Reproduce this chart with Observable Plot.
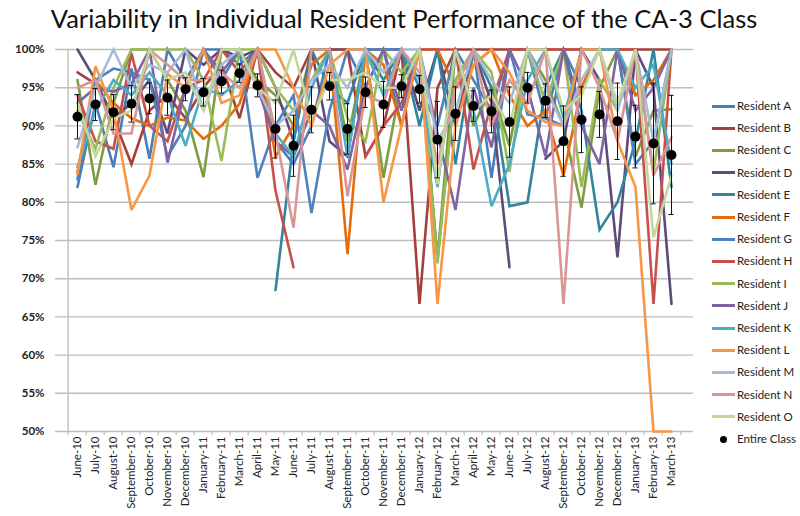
<!DOCTYPE html>
<html>
<head>
<meta charset="utf-8">
<script src="https://cdn.jsdelivr.net/npm/d3@7"></script>
<script src="https://cdn.jsdelivr.net/npm/@observablehq/plot@0.6"></script>
<style>
  html, body { margin: 0; padding: 0; background: #fff; }
  body { width: 800px; height: 516px; position: relative; overflow: hidden; font-family: Lato, "Open Sans", sans-serif; }
  #title { position: absolute; left: 4px; top: 3px; width: 800px; text-align: center; font-size: 25.5px; color: #111; white-space: nowrap; }
  #chart { position: absolute; left: 0; top: 40px; }
  #legend { position: absolute; left: 0; top: 0; }
  .li { position: absolute; left: 712px; font-size: 11.5px; color: #222; white-space: nowrap; height: 14px; line-height: 14px; }
  .sw { display: inline-block; width: 23px; height: 3px; vertical-align: middle; margin-right: 2px; position: relative; top: -1px; }
  .dotsw { display: inline-block; width: 7px; height: 7px; border-radius: 50%; background: #000; margin-left: 8px; margin-right: 10px; vertical-align: middle; position: relative; top: -1px; }
  #chart svg [aria-label^="y-axis"] text { font-weight: bold; font-size: 11.5px; }
  #chart svg [aria-label^="x-axis"] text { font-size: 11.5px; }
</style>
</head>
<body>
<div id="title">Variability in Individual Resident Performance of the CA-3 Class</div>
<div id="chart"></div>
<div id="legend"></div>
<script>
const months = ["June-10","July-10","August-10","September-10","October-10","November-10","December-10","January-11","February-11","March-11","April-11","May-11","June-11","July-11","August-11","September-11","October-11","November-11","December-11","January-12","February-12","March-12","April-12","May-12","June-12","July-12","August-12","September-12","October-12","November-12","December-12","January-13","February-13","March-13"];

const residents = ["Resident A","Resident B","Resident C","Resident D","Resident E","Resident F","Resident G","Resident H","Resident I","Resident J","Resident K","Resident L","Resident M","Resident N","Resident O"];
const residentColors = ["#4A7EBB","#A5403D","#7E9C41","#5F4A7C","#31859C","#E46C0A","#4F81BD","#C8504C","#9BBB59","#8064A2","#4BACC6","#F79646","#A6BBD9","#DA9694","#C3D69B"];

const residentA = [82,93,84.6,97.5,85.7,100,96,100,100,98,100,88,85,90,100,100,95,100,90,100,72.5,96,100,83.2,100,100,91,100,95,100,100,94,null,null];
const residentB = [97,95.5,91,85,92,94,91,95,98,91,100,97,95,100,100,100,86,90,100,66.7,95,100,100,100,100,100,100,100,100,100,100,100,100,100];
const residentC = [96,82.3,93,100,100,96,92,83.3,100,100,96,94,90,100,100,88,100,83.2,96,100,72.5,100,90,95,87.4,100,96,90,79.3,95,100,86,92,92.2];
const residentD = [100,96,91,93,96,89,100,98,100,99,100,95,88,100,88,86,100,100,100,92,100,90,100,93,71.5,null,85.7,88,100,96,72.8,100,95,66.7];
const residentE = [null,null,null,null,null,null,null,null,null,null,null,68.5,88,100,95,93,100,96,100,90,100,85,100,95,79.5,80,95,100,92,76.4,80,88,100,82];
const residentF = [84,96,93,91,90,91.1,90.7,88.3,90,92.9,100,86,90,98,100,73.2,100,98,90,100,100,95,98,100,94,90,92,83.5,95,100,100,94,96,100];
const residentG = [83,96,97.5,97,96,86,90,100,96,100,83.2,90,94,78.6,92,100,100,100,100,95,90,100,96,92,100,91.5,91,90,100,100,100,85,88,100];
const residentH = [94,88,87,99.5,90,88,95,96,100,97,100,81.5,71.5,null,null,null,86,90,93,100,100,100,84.3,93,100,100,100,100,100,100,100,100,66.7,100];
const residentI = [92,87,95,100,100,100,100,96,85.4,100,100,95,92,96,100,91,88,100,97,100,72,96,100,97,84,100,93,100,82,96,92,100,84,100];
const residentJ = [93,95,94.5,95.5,100,85.2,95,100,97,100,95,88,86,92,90,84.3,95,100,92,100,89,79,95,87.2,100,95,86,100,90,85,100,92,95,100];
const residentK = [84.6,92,96,94,97,94,87.4,95,94,96,100,89,86,95,100,86,100,94,100,96,82,100,92,79.5,85,96,100,91,100,100,100,95,98,85];
const residentL = [83.7,97.8,92,79,83.5,96.8,95,100,93,94,100,100,95,90,98,100,100,80,90,100,66.7,90,98,100,97,92,90.5,90,100,100,88,82,50,50];
const residentM = [87.2,95,100,95,98,97,100,92,98,100,95,90,92,96,98,95,100,97,100,100,88,92,100,96,93,100,95,90,96,100,92,100,88,100];
const residentN = [95,96,89,89,100,98,96,96,97,95,100,89,76.7,100,100,80.8,94,93,100,97,85,95,100,90,96,93,100,66.7,100,95,88,100,83.5,88.5];
const residentO = [93,86,91,92,100,96,97,92,100,100,95,93,100,91,96,96,97,95,95,100,82.4,100,92,94,90,100,100,92,94,100,93,100,75.4,83.5];

const classMean = [91.2,92.8,91.8,92.9,93.6,93.7,94.8,94.4,95.8,96.9,95.3,89.6,87.4,92.1,95.2,89.6,94.4,92.8,95.2,94.8,88.2,91.6,92.6,91.9,90.5,95.0,93.3,88.0,90.8,91.5,90.6,88.6,87.7,86.2];
const classErr = [2.9,2.1,2.3,2.4,2.0,2.3,1.5,1.8,1.5,1.2,1.5,3.8,4.0,3.0,1.8,3.3,2.0,3.0,1.5,1.8,5.0,3.5,2.0,2.8,4.6,2.0,2.2,4.6,4.3,3.0,5.0,4.1,7.9,7.8];

const yTicks = [50,55,60,65,70,75,80,85,90,95,100];

const seriesValues = [residentA,residentB,residentC,residentD,residentE,residentF,residentG,residentH,residentI,residentJ,residentK,residentL,residentM,residentN,residentO];
const lineData = [];
residents.forEach((r, i) => {
  months.forEach((m, j) => {
    const v = seriesValues[i][j];
    lineData.push({resident: r, month: m, value: v == null ? NaN : v});
  });
});
const classData = months.map((m, j) => ({month: m, mean: classMean[j], lo: classMean[j] - classErr[j], hi: classMean[j] + classErr[j]}));

const W = 800, H = 476, mL = 55, mR = 107, mT = 9, mB = 85;
const bw = (W - mL - mR) / months.length;
const grid = "#BEBEBE";

const chart = Plot.plot({
  width: W, height: H,
  marginTop: mT, marginBottom: mB, marginLeft: mL, marginRight: mR,
  style: {fontFamily: "Lato, 'Open Sans', sans-serif", fontSize: "11.5px", color: "#222", background: "white"},
  x: {type: "band", domain: months, padding: 0, tickRotate: -90, tickSize: 0, tickPadding: 5, label: null},
  y: {domain: [50, 100], ticks: yTicks, tickFormat: d => d + "%", tickSize: 0, tickPadding: 11, label: null},
  color: {domain: residents, range: residentColors},
  marks: [
    Plot.ruleY(yTicks, {stroke: grid, strokeWidth: 1.4}),
    Plot.ruleY(yTicks, {x1: months[0], x2: months[0], y: d => d, stroke: grid, strokeWidth: 1.4, dx: -bw / 2, insetLeft: -4}),
    Plot.ruleX([months[0]], {y1: 50, y2: 100, dx: -bw / 2, stroke: grid, strokeWidth: 1.4}),
    Plot.ruleX(months, {x: d => d, y1: 50, y2: 49.45, dx: -bw / 2, stroke: grid, strokeWidth: 1.2}),
    Plot.ruleX([months[months.length - 1]], {y1: 50, y2: 49.45, dx: bw / 2, stroke: grid, strokeWidth: 1.2}),
    Plot.line(lineData, {x: "month", y: "value", z: "resident", stroke: "resident", strokeWidth: 2.6, strokeLinejoin: "miter", strokeMiterlimit: 3}),
    Plot.ruleX(classData, {x: "month", y1: "lo", y2: "hi", stroke: "#111", strokeWidth: 1}),
    Plot.tickY(classData, {x: "month", y: "lo", stroke: "#111", strokeWidth: 1, insetLeft: (bw - 6) / 2, insetRight: (bw - 6) / 2}),
    Plot.tickY(classData, {x: "month", y: "hi", stroke: "#111", strokeWidth: 1, insetLeft: (bw - 6) / 2, insetRight: (bw - 6) / 2}),
    Plot.dot(classData, {x: "month", y: "mean", r: 5, fill: "#000", stroke: "none"})
  ]
});
document.getElementById("chart").appendChild(chart);

const legend = document.getElementById("legend");
residents.forEach((r, i) => {
  const d = document.createElement("div");
  d.className = "li";
  d.style.top = (106 + i * 22.2 - 7) + "px";
  d.innerHTML = `<span class="sw" style="background:${residentColors[i]}"></span>${r}`;
  legend.appendChild(d);
});
const dc = document.createElement("div");
dc.className = "li";
dc.style.top = (106 + 15 * 22.2 - 7) + "px";
dc.innerHTML = `<span class="dotsw"></span>Entire Class`;
legend.appendChild(dc);
</script>
</body>
</html>
